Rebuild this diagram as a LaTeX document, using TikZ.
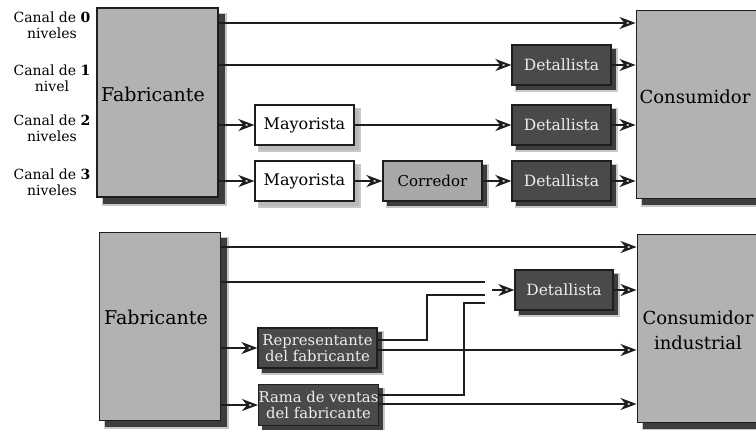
\documentclass[tikz,border=0pt]{standalone}
\usepackage{fontspec}
\setmainfont{DejaVu Serif}
\usetikzlibrary{arrows.meta,shadows}

\definecolor{boxgray}{HTML}{B2B2B2}
\definecolor{darkbox}{HTML}{4A4A4A}
\definecolor{midbox}{HTML}{A8A8A8}
\definecolor{shd}{HTML}{3E3E3E}
\definecolor{halo}{HTML}{C8C8C8}
\definecolor{ink}{HTML}{1E1E1E}
\definecolor{lighttext}{HTML}{EEEEEE}

\tikzset{
  conn/.style={draw=ink, line width=1.5pt},
  arr/.style={-{Stealth[length=16pt,width=12pt,inset=5pt,fill=white,line width=2pt]}},
  halo shadow/.style={general shadow={shadow xshift=#1,shadow yshift=-#1,fill=halo,draw=halo,line width=3.5pt}},
  dark shadow/.style={general shadow={shadow xshift=#1,shadow yshift=-#1,fill=shd,draw=shd,line width=0.5pt}},
  grey shadow/.style={general shadow={shadow xshift=#1,shadow yshift=-#1,fill=gray!55,draw=gray!55,line width=0.5pt}},
  bigbox/.style={draw=ink, fill=boxgray, line width=0.9pt, inner sep=0pt,
    minimum width=121pt, minimum height=188pt, halo shadow=7pt, dark shadow=6pt},
  smallbox/.style={draw=ink, line width=1.2pt, inner sep=0pt, align=center,
    minimum width=99pt, minimum height=40pt, halo shadow=5pt},
  retail/.style={smallbox, fill=darkbox, text=lighttext, dark shadow=4pt,
    font=\fontsize{15.5}{18}\selectfont},
  wholesale/.style={smallbox, fill=white, grey shadow=4pt,
    font=\fontsize{16}{19}\selectfont},
  broker/.style={smallbox, fill=midbox, dark shadow=4pt,
    font=\fontsize{15}{18}\selectfont},
  agent/.style={smallbox, fill=darkbox, text=lighttext, dark shadow=4pt,
    minimum width=119pt, font=\fontsize{14.8}{16}\selectfont},
  bigtext/.style={inner sep=0pt, align=center, font=\fontsize{18}{25}\selectfont},
  channel/.style={inner sep=0pt, align=center, font=\fontsize{14}{16}\selectfont},
}

\begin{document}
\begin{tikzpicture}[x=1pt,y=-1pt]
\useasboundingbox (0,0) rectangle (756,429);

% ---------- consumer channels ----------
\node[bigbox, line width=2.4pt, minimum height=189pt] (fab1) at (157.5,102.5) {};
\node[bigtext, font=\fontsize{19}{25}\selectfont] (fab1t) at (153,94) {Fabricante};
\node[bigbox, minimum height=188pt] (cons1) at (696.5,104) {};
\node[bigtext] (cons1t) at (695,97) {Consumidor};

\node[channel] (l0) at (52,25)  {Canal de \textbf{0}\\niveles};
\node[channel] (l1) at (52,78)  {Canal de \textbf{1}\\nivel};
\node[channel] (l2) at (52,128) {Canal de \textbf{2}\\niveles};
\node[channel] (l3) at (52,182) {Canal de \textbf{3}\\niveles};

\node[retail] (det1) at (561.5,65) {Detallista};
\node[wholesale] (may2) at (304.5,125) {Mayorista};
\node[retail] (det2) at (561.5,125) {Detallista};
\node[wholesale] (may3) at (304.5,181) {Mayorista};
\node[broker] (cor3) at (432.5,181) {Corredor};
\node[retail] (det3) at (561.5,181) {Detallista};

\coordinate (r0) at (0,23);
\draw[conn,arr] (fab1.east |- r0) -- (cons1.west |- r0);
\draw[conn,arr] (fab1.east |- det1.west) -- (det1.west);
\draw[conn,arr] (det1.east) -- (cons1.west |- det1.east);
\draw[conn,arr] (fab1.east |- may2.west) -- (may2.west);
\draw[conn,arr] (may2.east) -- (det2.west);
\draw[conn,arr] (det2.east) -- (cons1.west |- det2.east);
\draw[conn,arr] (fab1.east |- may3.west) -- (may3.west);
\draw[conn,arr] (may3.east) -- (cor3.west);
\draw[conn,arr] (cor3.east) -- (det3.west);
\draw[conn,arr] (det3.east) -- (cons1.west |- det3.east);

% ---------- industrial channels ----------
\node[bigbox] (fab2) at (159.5,326) {};
\node[bigtext, font=\fontsize{19}{25}\selectfont] (fab2t) at (156,317) {Fabricante};
\node[bigbox] (cons2) at (697.5,328) {};
\node[bigtext] (cons2t) at (698,330) {Consumidor\\industrial};

\node[retail, minimum width=98pt] (det4) at (564,290) {Detallista};
\node[agent] (rep) at (317.5,348) {Representante\\del fabricante};
\node[agent, minimum height=41pt] (rama) at (318.5,405) {Rama de ventas\\del fabricante};

\coordinate (ra) at (0,247);
\coordinate (rb) at (0,282);
\coordinate (jb) at (485,282);
\coordinate (jr) at (485,295);
\coordinate (js) at (485,303);
\coordinate (jd) at (492,290);
\coordinate (repup) at ([yshift=8pt]rep.east);
\coordinate (replo) at ([yshift=-2pt]rep.east);
\coordinate (ramup) at ([yshift=10pt]rama.east);
\coordinate (ramlo) at ([yshift=1pt]rama.east);

\draw[conn,arr] (fab2.east |- ra) -- (cons2.west |- ra);
\draw[conn] (fab2.east |- rb) -- (jb);
\draw[conn,arr] (fab2.east |- rep.west) -- (rep.west);
\draw[conn,arr] (fab2.east |- rama.west) -- (rama.west);
\draw[conn] (repup) -| ([xshift=-58pt]jr) -- (jr);
\draw[conn] (ramup) -| ([xshift=-21pt]js) -- (js);
\draw[conn,arr] (replo) -- (cons2.west |- replo);
\draw[conn,arr] (ramlo) -- (cons2.west |- ramlo);
\draw[conn,arr] (jd) -- (det4.west);
\draw[conn,arr] (det4.east) -- (cons2.west |- det4.east);
\end{tikzpicture}
\end{document}
